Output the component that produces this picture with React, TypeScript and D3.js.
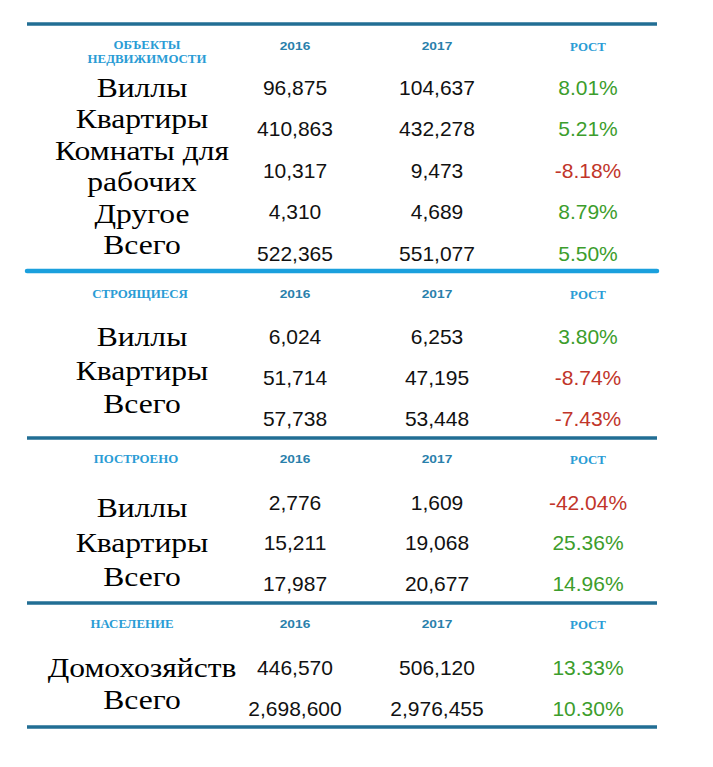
import React from "react";
import * as d3 from "d3";

// table content
const columns = ["label", "2016", "2017", "growth"];
const yearLabels = ["2016", "2017"];
const growthTitle = "РОСТ";

const sectionTitles = [["ОБЪЕКТЫ", "НЕДВИЖИМОСТИ"], ["СТРОЯЩИЕСЯ"], ["ПОСТРОЕНО"], ["НАСЕЛЕНИЕ"]];

const rowLabels = [
  [["Виллы"], ["Квартиры"], ["Комнаты для", "рабочих"], ["Другое"], ["Всего"]],
  [["Виллы"], ["Квартиры"], ["Всего"]],
  [["Виллы"], ["Квартиры"], ["Всего"]],
  [["Домохозяйств"], ["Всего"]],
];

const values2016 = [
  [96875, 410863, 10317, 4310, 522365],
  [6024, 51714, 57738],
  [2776, 15211, 17987],
  [446570, 2698600],
];

const values2017 = [
  [104637, 432278, 9473, 4689, 551077],
  [6253, 47195, 53448],
  [1609, 19068, 20677],
  [506120, 2976455],
];

const growth = [
  [8.01, 5.21, -8.18, 8.79, 5.5],
  [3.8, -8.74, -7.43],
  [-42.04, 25.36, 14.96],
  [13.33, 10.3],
];

// layout of each block (rule, header, first row, row steps)
const layout = [
  { rule: 24, head: 46, titleX: 147, row0: 87, rowStep: 41.5, lab0: 88, labStep: 31.4, ruleColor: "#226e94" },
  { rule: 271, head: 294, titleX: 140, row0: 336, rowStep: 41, lab0: 337, labStep: 33.5, ruleColor: "#1ba0dd" },
  { rule: 438, head: 459, titleX: 136, row0: 502, rowStep: 40.5, lab0: 508, labStep: 34.5, ruleColor: "#226e94" },
  { rule: 603, head: 624, titleX: 132, row0: 667, rowStep: 41, lab0: 668, labStep: 32, ruleColor: "#226e94" },
];
const bottomRule = 727;

const width = 713;
const height = 767;

const locale = d3.formatLocale({ decimal: ".", thousands: ",", grouping: [3], currency: ["", ""], minus: "-" });
const fmtNum = locale.format(",");
const fmtPct = (v: number) => locale.format(".2f")(v) + "%";

const x = d3.scaleOrdinal<string, number>().domain(columns).range([142, 295, 437, 588]);

const serif = "'Liberation Serif', 'Times New Roman', serif";
const sans = "'Liberation Sans', Arial, sans-serif";

export default function App() {
  return (
    <svg
      width={width}
      height={height}
      style={{ position: "absolute", left: 0, top: 0, background: "#fff" }}
    >
      <rect width={width} height={height} fill="#fff" />
      {layout.map((l, s) => {
        const yRow = d3.scaleLinear().domain([0, 1]).range([l.row0, l.row0 + l.rowStep]);
        const yLine = d3.scaleLinear().domain([0, 1]).range([l.lab0, l.lab0 + l.labStep]);
        let lineIdx = 0;
        const titles = sectionTitles[s];
        return (
          <g key={s}>
            <line
              x1={27}
              x2={657}
              y1={l.rule}
              y2={l.rule}
              stroke={l.ruleColor}
              strokeWidth={s === 1 ? 4.5 : 3.5}
              strokeLinecap={s === 1 ? "round" : "butt"}
            />
            {titles.map((t, k) => (
              <text
                key={k}
                transform={`translate(${l.titleX},${l.head + 4 - (titles.length - 1) * 1 + k * 14}) scale(1.12,1)`}
                textAnchor="middle"
                fontFamily={serif}
                fontWeight="bold"
                fontSize={11.5}
                fill="#2a9cd5"
              >
                {t}
              </text>
            ))}
            {yearLabels.map((yl) => (
              <text
                key={yl}
                transform={`translate(${x(yl)},${l.head + 4}) scale(1.25,1)`}
                textAnchor="middle"
                fontFamily={sans}
                fontWeight="bold"
                fontSize={11}
                fill="#2a7fab"
              >
                {yl}
              </text>
            ))}
            <text
              transform={`translate(${x("growth")},${l.head + 5}) scale(1.12,1)`}
              textAnchor="middle"
              fontFamily={serif}
              fontWeight="bold"
              fontSize={11.5}
              fill="#2a9cd5"
            >
              {growthTitle}
            </text>
            {rowLabels[s].map((lines, i) => {
              const yc = yRow(i);
              const g = growth[s][i];
              const labelEls = lines.map((ln, k) => {
                const yl = yLine(lineIdx + k);
                return (
                  <text
                    key={k}
                    transform={`translate(${x("label")},${yl + 9}) scale(1.17,1)`}
                    textAnchor="middle"
                    fontFamily={serif}
                    fontSize={27}
                    fill="#000"
                  >
                    {ln}
                  </text>
                );
              });
              lineIdx += lines.length;
              return (
                <g key={i}>
                  {labelEls}
                  <text x={x("2016")} y={yc + 7.5} textAnchor="middle" fontFamily={sans} fontSize={21} fill="#111">
                    {fmtNum(values2016[s][i])}
                  </text>
                  <text x={x("2017")} y={yc + 7.5} textAnchor="middle" fontFamily={sans} fontSize={21} fill="#111">
                    {fmtNum(values2017[s][i])}
                  </text>
                  <text
                    x={x("growth")}
                    y={yc + 7.5}
                    textAnchor="middle"
                    fontFamily={sans}
                    fontSize={21}
                    fill={g < 0 ? "#c1352a" : "#3c9d2c"}
                  >
                    {fmtPct(g)}
                  </text>
                </g>
              );
            })}
          </g>
        );
      })}
      <line x1={27} x2={657} y1={bottomRule} y2={bottomRule} stroke="#226e94" strokeWidth={3.5} />
    </svg>
  );
}
